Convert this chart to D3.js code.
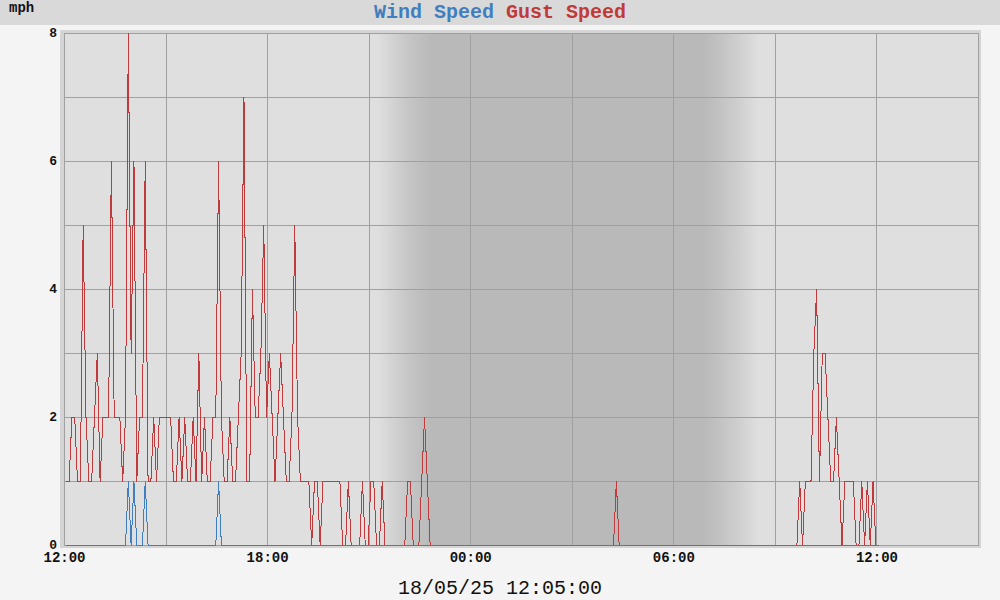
<!DOCTYPE html>
<html>
<head>
<meta charset="utf-8">
<script src="https://cdn.jsdelivr.net/npm/d3@7"></script>
<style>
  html, body { margin: 0; padding: 0; background: #f4f4f4; }
  svg { display: block; font-family: "Liberation Mono", "DejaVu Sans Mono", monospace; }
</style>
</head>
<body>
<div id="chart"></div>
<script>
// 5 minute readings in mph, first one at 12:04, one row per hour
const windSpeed = [
  0,0,0,0,0,0,0,0,0,0,0,0,
  0,0,0,0,0,0,0,0,0,0,1,0,
  1,0,0,0,1,0,0,0,0,0,0,0,
  0,0,0,0,0,0,0,0,0,0,0,0,
  0,0,0,0,0,0,1,0,0,0,0,0,
  0,0,0,0,0,0,0,0,0,0,0,0,
  0,0,0,0,0,0,0,0,0,0,0,0,
  0,0,0,0,0,0,0,0,0,0,0,0,
  0,0,0,0,0,0,0,0,0,0,0,0,
  0,0,0,0,0,0,0,0,0,0,0,0,
  0,0,0,0,0,0,0,0,0,0,0,0,
  0,0,0,0,0,0,0,0,0,0,0,0,
  0,0,0,0,0,0,0,0,0,0,0,0,
  0,0,0,0,0,0,0,0,0,0,0,0,
  0,0,0,0,0,0,0,0,0,0,0,0,
  0,0,0,0,0,0,0,0,0,0,0,0,
  0,0,0,0,0,0,0,0,0,0,0,0,
  0,0,0,0,0,0,0,0,0,0,0,0,
  0,0,0,0,0,0,0,0,0,0,0,0,
  0,0,0,0,0,0,0,0,0,0,0,0,
  0,0,0,0,0,0,0,0,0,0,0,0,
  0,0,0,0,0,0,0,0,0,0,0,0,
  0,0,0,0,0,0,0,0,0,0,0,0,
  0,0,0,0,0,0,0,0,0,0,0,0,
  0
];

const gustSpeed = [
  1,1,2,2,1,1,5,2,1,1,2,3,
  1,2,2,2,6,2,2,2,1,2,8,3,
  6,1,2,2,6,1,1,2,1,2,2,2,
  2,2,1,1,2,1,2,1,1,2,1,3,
  1,2,1,1,2,2,6,2,1,1,2,1,
  1,2,3,7,1,1,4,2,2,3,5,2,
  3,2,1,2,3,2,1,1,2,5,2,1,
  1,1,1,0,1,1,0,1,1,1,1,1,
  1,1,0,0,1,0,0,0,0,1,0,0,
  1,1,0,0,1,0,0,0,0,0,0,0,
  0,1,1,0,0,0,1,2,1,0,0,0,
  0,0,0,0,0,0,0,0,0,0,0,0,
  0,0,0,0,0,0,0,0,0,0,0,0,
  0,0,0,0,0,0,0,0,0,0,0,0,
  0,0,0,0,0,0,0,0,0,0,0,0,
  0,0,0,0,0,0,0,0,0,0,0,0,
  0,0,0,1,0,0,0,0,0,0,0,0,
  0,0,0,0,0,0,0,0,0,0,0,0,
  0,0,0,0,0,0,0,0,0,0,0,0,
  0,0,0,0,0,0,0,0,0,0,0,0,
  0,0,0,0,0,0,0,0,0,0,0,0,
  0,0,0,0,0,0,0,0,1,0,1,1,
  1,3,4,1,3,3,2,1,1,2,1,0,
  1,1,1,1,0,0,1,0,1,0,1,0,
  0
];

const firstReading = "2025-05-17 12:04";
const readingStep = 5; // minutes
const timeDomain = ["2025-05-17 12:00", "2025-05-18 15:00"];
const xTickTimes = ["2025-05-17 12:00", "2025-05-17 18:00", "2025-05-18 00:00", "2025-05-18 06:00", "2025-05-18 12:00"];
const yTicks = [0, 2, 4, 6, 8];
const yMax = 8;
// dusk fades in, dawn fades out
const duskTimes = ["2025-05-17 21:16", "2025-05-17 21:46", "2025-05-17 22:12", "2025-05-17 22:51"];
const dawnTimes = ["2025-05-18 06:54", "2025-05-18 07:30", "2025-05-18 08:00", "2025-05-18 08:32"];
const seriesNames = ["Wind Speed", "Gust Speed"];
const unitLabel = "mph";
const stampLabel = "18/05/25 12:05:00";

const W = 1000, H = 600;
const plot = { left: 64, top: 33, right: 978, bottom: 545 };
const colors = { wind: "#3f7fbf", gust: "#bf3b3b", grid: "#a0a0a0" };

const parse = d3.timeParse("%Y-%m-%d %H:%M");

const x = d3.scaleTime()
    .domain(timeDomain.map(parse))
    .range([plot.left, plot.right]);

const y = d3.scaleLinear()
    .domain([0, yMax])
    .range([plot.bottom, plot.top]);

const t0 = parse(firstReading);
const timeAt = i => d3.timeMinute.offset(t0, i * readingStep);

const svg = d3.select('#chart')
    .append('svg')
    .attr('width', W)
    .attr('height', H);

svg.append('rect')
    .attr('width', W).attr('height', H)
    .attr('fill', '#f4f4f4');

// header band
svg.append('rect')
    .attr('width', W).attr('height', 25)
    .attr('fill', '#d9d9d9');

// frame round the plot
svg.append('rect')
    .attr('x', plot.left - 4).attr('y', plot.top - 3)
    .attr('width', plot.right - plot.left + 7)
    .attr('height', plot.bottom - plot.top + 6)
    .attr('fill', '#d4d4d4');

// day / night shading
const defs = svg.append('defs');
const grad = defs.append('linearGradient')
    .attr('id', 'night')
    .attr('gradientUnits', 'userSpaceOnUse')
    .attr('x1', plot.left).attr('x2', plot.right)
    .attr('y1', 0).attr('y2', 0);

const shades = ['#dfdfdf', '#d1d1d1', '#c5c5c5', '#b9b9b9'];
const offset = t => (x(parse(t)) - plot.left) / (plot.right - plot.left);
duskTimes.forEach((t, i) => {
    grad.append('stop').attr('offset', offset(t)).attr('stop-color', shades[i]);
});
dawnTimes.forEach((t, i) => {
    grad.append('stop').attr('offset', offset(t)).attr('stop-color', shades[shades.length - 1 - i]);
});

svg.append('rect')
    .attr('x', plot.left).attr('y', plot.top)
    .attr('width', plot.right - plot.left)
    .attr('height', plot.bottom - plot.top)
    .attr('fill', 'url(#night)');

// grid
const g = svg.append('g').attr('shape-rendering', 'crispEdges');

const hourLines = d3.timeHour.every(3).range(x.domain()[0], d3.timeMinute.offset(x.domain()[1], 1));
g.selectAll('.vgrid')
    .data(hourLines)
    .join('line')
    .attr('class', 'vgrid')
    .attr('x1', d => Math.round(x(d)) + 0.5)
    .attr('x2', d => Math.round(x(d)) + 0.5)
    .attr('y1', plot.top).attr('y2', plot.bottom)
    .attr('stroke', colors.grid);

g.selectAll('.hgrid')
    .data(d3.range(0, yMax + 1))
    .join('line')
    .attr('class', 'hgrid')
    .attr('x1', plot.left).attr('x2', plot.right + 1)
    .attr('y1', d => Math.round(y(d)) + 0.5)
    .attr('y2', d => Math.round(y(d)) + 0.5)
    .attr('stroke', colors.grid);

g.append('rect')
    .attr('x', plot.left + 0.5).attr('y', plot.top + 0.5)
    .attr('width', plot.right - plot.left)
    .attr('height', plot.bottom - plot.top)
    .attr('fill', 'none')
    .attr('stroke', colors.grid);

// series
const line = d3.line()
    .x((d, i) => x(timeAt(i)))
    .y(d => Math.round(y(d)) + 0.5);

svg.append('path')
    .datum(gustSpeed)
    .attr('d', line)
    .attr('fill', 'none')
    .attr('stroke', colors.gust)
    .attr('stroke-width', 1)
    .attr('shape-rendering', 'crispEdges');

svg.append('path')
    .datum(windSpeed)
    .attr('d', line)
    .attr('fill', 'none')
    .attr('stroke', colors.wind)
    .attr('stroke-width', 1)
    .attr('shape-rendering', 'crispEdges');

// axes
const xAxis = d3.axisBottom(x)
    .tickValues(xTickTimes.map(parse))
    .tickFormat(d3.timeFormat('%H:%M'))
    .tickSize(0)
    .tickPadding(7);

const yAxis = d3.axisLeft(y)
    .tickValues(yTicks)
    .tickFormat(d3.format('d'))
    .tickSize(0)
    .tickPadding(7);

const xg = svg.append('g')
    .attr('transform', `translate(0,${plot.bottom})`)
    .call(xAxis);
const yg = svg.append('g')
    .attr('transform', `translate(${plot.left},0)`)
    .call(yAxis);

xg.select('.domain').remove();
yg.select('.domain').remove();

xg.selectAll('text')
    .attr('fill', '#111')
    .style('font-family', '"Liberation Mono", monospace')
    .style('font-size', '14px')
    .style('font-weight', 'bold');

yg.selectAll('text')
    .attr('fill', '#111')
    .attr('dy', '0.3em')
    .style('font-family', '"Liberation Mono", monospace')
    .style('font-size', '13px')
    .style('font-weight', 'bold');

// titles
const title = svg.append('text')
    .attr('x', W / 2).attr('y', 18)
    .attr('text-anchor', 'middle')
    .style('font-size', '20px')
    .style('font-weight', 'bold');
title.append('tspan').attr('fill', colors.wind).text(seriesNames[0]);
title.append('tspan').text(' ');
title.append('tspan').attr('fill', colors.gust).text(seriesNames[1]);

svg.append('text')
    .attr('x', 9).attr('y', 12)
    .attr('fill', '#111')
    .style('font-size', '14px')
    .style('font-weight', 'bold')
    .text(unitLabel);

svg.append('text')
    .attr('x', W / 2).attr('y', 594)
    .attr('text-anchor', 'middle')
    .attr('fill', '#111')
    .style('font-size', '20px')
    .text(stampLabel);
</script>
</body>
</html>
